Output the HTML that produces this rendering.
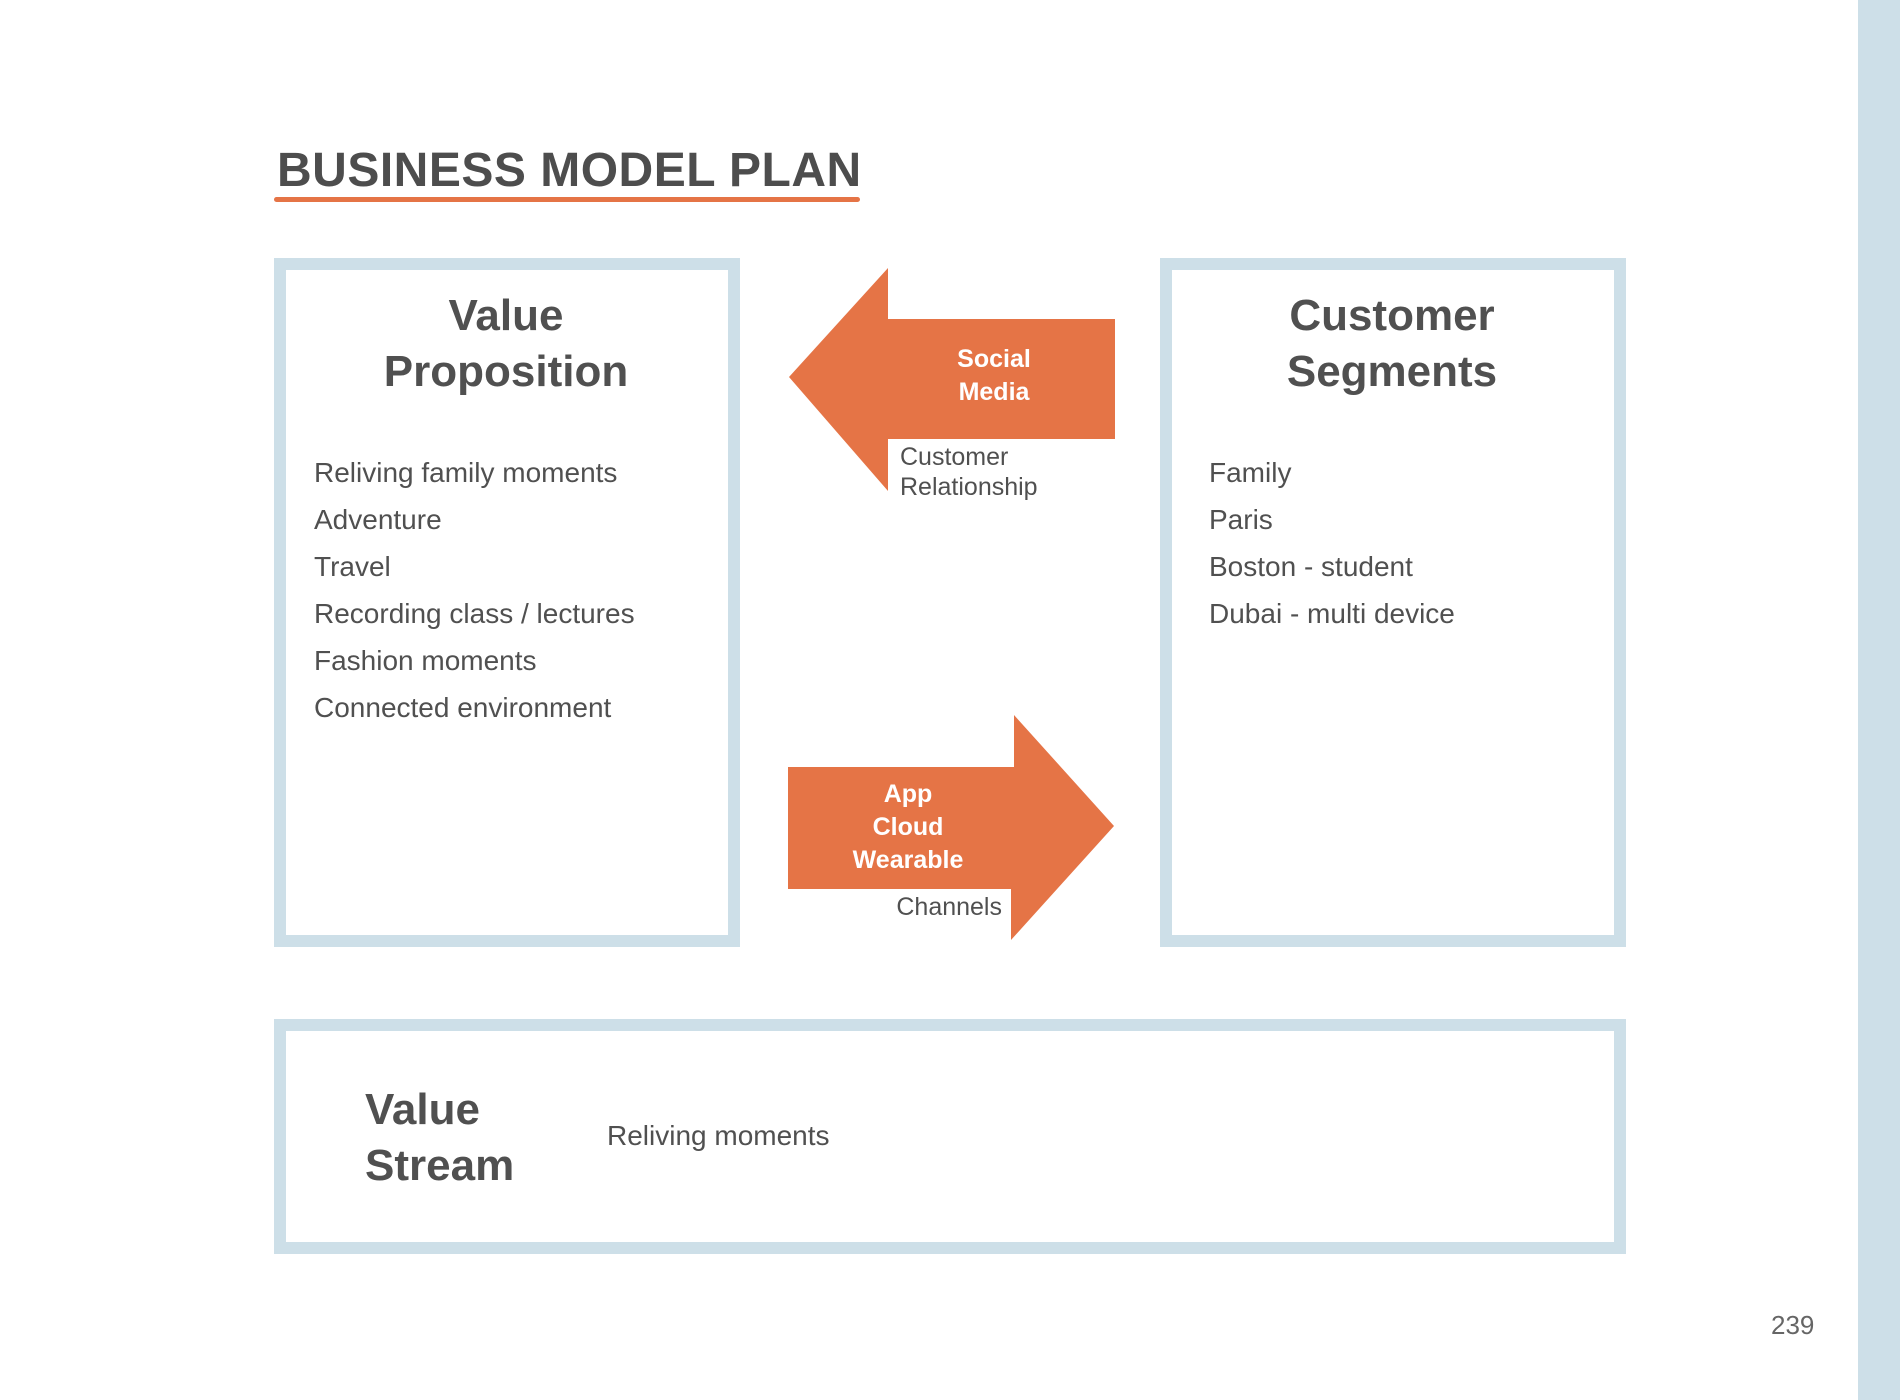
<!DOCTYPE html>
<html><head><meta charset="utf-8"><style>
body{margin:0;width:1900px;height:1400px;background:#fff;position:relative;overflow:hidden;font-family:"Liberation Sans",sans-serif;color:#505050}
.a{position:absolute;white-space:nowrap}
.box{position:absolute;border:12px solid #cddfe8;box-sizing:border-box}
.h{font-weight:bold;font-size:44px;line-height:56px;text-align:center}
.li{font-size:28px;line-height:47px}
.w{color:#fff;font-weight:bold;font-size:25px;text-align:center;line-height:33px}
</style></head><body>
<div class="a" style="left:1858px;top:0;width:42px;height:1400px;background:#cddfe8"></div>
<div class="a" style="left:277px;top:143px;font-size:48px;font-weight:bold;color:#4d4d4d;letter-spacing:0.5px">BUSINESS MODEL PLAN</div>
<div class="a" style="left:274px;top:197px;width:586px;height:5px;background:#e57446;border-radius:3px"></div>

<div class="box" style="left:274px;top:258px;width:466px;height:689px"></div>
<div class="box" style="left:1160px;top:258px;width:466px;height:689px"></div>
<div class="box" style="left:274px;top:1019px;width:1352px;height:235px"></div>

<div class="a h" style="left:306px;top:288px;width:400px">Value<br>Proposition</div>
<div class="a li" style="left:314px;top:449px">Reliving family moments<br>Adventure<br>Travel<br>Recording class / lectures<br>Fashion moments<br>Connected environment</div>

<div class="a h" style="left:1192px;top:288px;width:400px">Customer<br>Segments</div>
<div class="a li" style="left:1209px;top:449px">Family<br>Paris<br>Boston - student<br>Dubai - multi device</div>

<div class="a h" style="left:365px;top:1082px;text-align:left">Value<br>Stream</div>
<div class="a" style="left:607px;top:1120px;font-size:28px">Reliving moments</div>
<div class="a" style="left:1771px;top:1310px;font-size:26px;color:#666">239</div>

<svg class="a" style="left:0;top:0" width="1900" height="1400">
<polygon points="789,377 888,268 888,319 1115,319 1115,439 888,439 888,491" fill="#e57446"/>
<polygon points="788,767 1014,767 1014,715 1114,826 1011,940 1011,889 788,889" fill="#e57446"/>
</svg>
<div class="a w" style="left:894px;top:343px;width:200px">Social<br>Media</div>
<div class="a" style="left:900px;top:442px;font-size:25px;line-height:30px">Customer<br>Relationship</div>
<div class="a w" style="left:808px;top:778px;width:200px">App<br>Cloud<br>Wearable</div>
<div class="a" style="left:880px;top:893px;width:122px;text-align:right;font-size:25px">Channels</div>
</body></html>
